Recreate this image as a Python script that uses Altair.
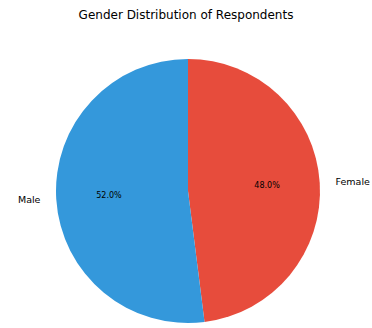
import altair as alt
import pandas as pd

categories = ["Female", "Male"]
values = [48.0, 52.0]
colors = ["#e74c3c", "#3498db"]

df = pd.DataFrame({
    "gender": categories,
    "value": values,
    "ord": list(range(len(categories))),
})
df["pct"] = [f"{v:.1f}%" for v in df["value"]]

CX, CY, R = 188, 161, 132

base = alt.Chart(df).encode(
    theta=alt.Theta("value:Q", stack=True),
    order=alt.Order("ord:Q"),
)

arcs = base.mark_arc(outerRadius=R, x=CX, y=CY).encode(
    color=alt.Color("gender:N", scale=alt.Scale(domain=categories, range=colors), legend=None)
)

pct = base.mark_text(radius=R * 0.6, x=CX, y=CY, font="DejaVu Sans", fontSize=8, color="black").encode(
    text="pct:N"
)

lab_base = alt.Chart(df).transform_joinaggregate(
    total="sum(value)"
).transform_window(
    cum="sum(value)", sort=[alt.SortField("ord")], frame=[None, 0]
).transform_calculate(
    mid="(datum.cum - datum.value / 2) / datum.total * 2 * PI"
).encode(
    theta=alt.Theta("mid:Q", scale=None),
    text="gender:N",
)

lab_m = lab_base.mark_text(radius=R * 1.12, x=CX, y=CY, font="DejaVu Sans", fontSize=9.5, color="black",
                           align="right").transform_filter(alt.datum.gender == "Male")
lab_f = lab_base.mark_text(radius=R * 1.12, x=CX, y=CY, font="DejaVu Sans", fontSize=9.5, color="black",
                           align="left").transform_filter(alt.datum.gender == "Female")

chart = alt.layer(arcs, pct, lab_m, lab_f).properties(
    width=372,
    height=298,
    padding={"top": 30, "left": 0, "right": 0, "bottom": 0},
    autosize=alt.AutoSizeParams(type="none"),
    title=alt.TitleParams("Gender Distribution of Respondents", font="DejaVu Sans", fontSize=12,
                          fontWeight="normal", color="black", offset=8, anchor="middle"),
).configure_view(stroke=None)

chart.save("out.html", embed_options={"renderer": "svg", "actions": False})
